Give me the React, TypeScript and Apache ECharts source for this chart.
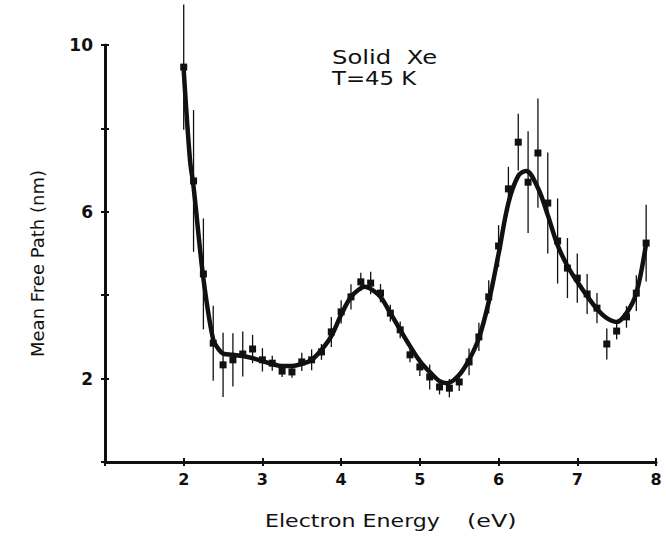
import React, { useEffect, useRef } from "react";
import * as echarts from "echarts";

const energies = [
  2.0, 2.125, 2.25, 2.375, 2.5, 2.625, 2.75, 2.875, 3.0, 3.125, 3.25, 3.375,
  3.5, 3.625, 3.75, 3.875, 4.0, 4.125, 4.25, 4.375, 4.5, 4.625, 4.75, 4.875,
  5.0, 5.125, 5.25, 5.375, 5.5, 5.625, 5.75, 5.875, 6.0, 6.125, 6.25, 6.375,
  6.5, 6.625, 6.75, 6.875, 7.0, 7.125, 7.25, 7.375, 7.5, 7.625, 7.75, 7.875,
];
const mfp = [
  9.47, 6.74, 4.51, 2.85, 2.33, 2.45, 2.59, 2.71, 2.45, 2.37, 2.18, 2.16,
  2.4, 2.45, 2.64, 3.12, 3.6, 3.96, 4.32, 4.29, 4.05, 3.57, 3.17, 2.57,
  2.28, 2.04, 1.8, 1.77, 1.92, 2.4, 3.0, 3.96, 5.18, 6.55, 7.67, 6.71,
  7.41, 6.21, 5.3, 4.65, 4.41, 4.03, 3.69, 2.83, 3.14, 3.48, 4.05, 5.25,
];
const mfpErr = [
  1.5, 1.7, 1.33, 0.9, 0.77, 0.64, 0.54, 0.34, 0.28, 0.18, 0.14, 0.14,
  0.22, 0.25, 0.19, 0.36, 0.28, 0.3, 0.22, 0.27, 0.22, 0.2, 0.2, 0.18,
  0.22, 0.3, 0.18, 0.22, 0.22, 0.32, 0.34, 0.4, 0.5, 0.53, 0.68, 1.22,
  1.31, 1.21, 1.02, 0.72, 0.59, 0.48, 0.36, 0.37, 0.2, 0.26, 0.43, 0.92,
];
const fitX = [
  2.0, 2.08, 2.125, 2.25, 2.375, 2.45, 2.5, 2.625, 2.75, 2.875, 3.0, 3.125,
  3.25, 3.375, 3.5, 3.625, 3.75, 3.875, 4.0, 4.125, 4.25, 4.3, 4.375, 4.5,
  4.625, 4.75, 4.875, 5.0, 5.125, 5.25, 5.35, 5.5, 5.625, 5.75, 5.875, 6.0,
  6.125, 6.25, 6.35, 6.5, 6.625, 6.75, 6.875, 7.0, 7.125, 7.25, 7.375, 7.5,
  7.625, 7.75, 7.875,
];
const fitY = [
  9.4, 7.24, 6.6, 4.4, 2.93, 2.69, 2.6, 2.57, 2.54, 2.49, 2.42, 2.35,
  2.3, 2.3, 2.35, 2.45, 2.69, 3.02, 3.53, 3.96, 4.17, 4.2, 4.15, 3.96,
  3.57, 3.17, 2.78, 2.42, 2.16, 1.94, 1.89, 2.09, 2.45, 2.97, 3.84, 4.99,
  6.21, 6.86, 6.98, 6.57, 5.92, 5.2, 4.7, 4.32, 3.98, 3.67, 3.45, 3.36,
  3.57, 4.05, 5.25,
];
const yLabelled = [2, 6, 10];

const FONT = "'DejaVu Sans', 'Liberation Sans', sans-serif";

export default function App() {
  const ref = useRef<HTMLDivElement>(null);
  useEffect(() => {
    if (!ref.current) return;
    const chart = echarts.init(ref.current, null, { renderer: "svg" });
    const points = energies.map((x, i) => [x, mfp[i]]);
    const bars = energies.map((x, i) => [x, mfp[i] - mfpErr[i], mfp[i] + mfpErr[i]]);
    const fit = fitX.map((x, i) => [x, fitY[i]]);
    const axisLine = { show: true, lineStyle: { color: "#111", width: 3 } };
    const txt = (text: string, x: number, y: number, size: number, sx: number) => ({
      type: "text",
      x,
      y,
      scaleX: sx,
      style: {
        text,
        fontFamily: FONT,
        fontSize: size,
        fill: "#111",
        align: "left",
        verticalAlign: "top",
      },
    });
    chart.setOption({
      animation: false,
      backgroundColor: "#fff",
      grid: { left: 105, right: 10, top: 45, bottom: 80 },
      xAxis: [
        {
          type: "value",
          min: 1,
          max: 8,
          interval: 1,
          axisLine,
          axisTick: { show: true, length: 4, lineStyle: { color: "#111", width: 2 } },
          splitLine: { show: false },
          axisLabel: {
            margin: 9,
            color: "#111",
            fontFamily: FONT,
            fontWeight: "bold",
            fontSize: 16,
            formatter: (v: number) => (v >= 2 ? String(v) : ""),
          },
        },
        {
          type: "value",
          min: 1,
          max: 8,
          interval: 1,
          position: "bottom",
          axisLine: { show: false },
          axisTick: { show: true, inside: true, length: 4, lineStyle: { color: "#111", width: 2 } },
          axisLabel: { show: false },
          splitLine: { show: false },
        },
      ],
      yAxis: [
        {
          type: "value",
          min: 0,
          max: 10,
          interval: 2,
          axisLine,
          axisTick: { show: true, length: 4, lineStyle: { color: "#111", width: 2 } },
          splitLine: { show: false },
          axisLabel: {
            margin: 12,
            color: "#111",
            fontFamily: FONT,
            fontWeight: "bold",
            fontSize: 17,
            formatter: (v: number) => (yLabelled.includes(v) ? String(v) : ""),
          },
        },
        {
          type: "value",
          min: 0,
          max: 10,
          interval: 2,
          position: "left",
          axisLine: { show: false },
          axisTick: { show: true, inside: true, length: 4, lineStyle: { color: "#111", width: 2 } },
          axisLabel: { show: false },
          splitLine: { show: false },
        },
      ],
      graphic: [
        txt("Electron Energy", 265, 513, 17, 1.3),
        txt("(eV)", 467, 513, 17, 1.4),
        {
          type: "text",
          x: 28,
          y: 357,
          rotation: Math.PI / 2,
          style: { text: "Mean Free Path (nm)", fontFamily: FONT, fontSize: 18, fill: "#111" },
        },
        txt("Solid  Xe", 332, 48, 19, 1.28),
        txt("T=45 K", 332, 69, 19, 1.2),
      ],
      series: [
        {
          type: "custom",
          clip: false,
          z: 2,
          data: bars,
          renderItem: (params: any, api: any) => {
            const x = api.value(0);
            const p1 = api.coord([x, api.value(1)]);
            const p2 = api.coord([x, api.value(2)]);
            return {
              type: "line",
              shape: { x1: p1[0], y1: p1[1], x2: p2[0], y2: p2[1] },
              style: { stroke: "#111", lineWidth: 1.3 },
            };
          },
        },
        {
          type: "line",
          data: fit,
          smooth: 0.35,
          showSymbol: false,
          symbol: "none",
          z: 3,
          lineStyle: { color: "#111", width: 4.5 },
        },
        {
          type: "scatter",
          data: points,
          symbol: "rect",
          symbolSize: 7,
          z: 4,
          itemStyle: { color: "#111", opacity: 1 },
        },
      ],
    });
    return () => chart.dispose();
  }, []);
  return (
    <div
      ref={ref}
      style={{ position: "fixed", left: 0, top: 0, width: 666, height: 542 }}
    />
  );
}
